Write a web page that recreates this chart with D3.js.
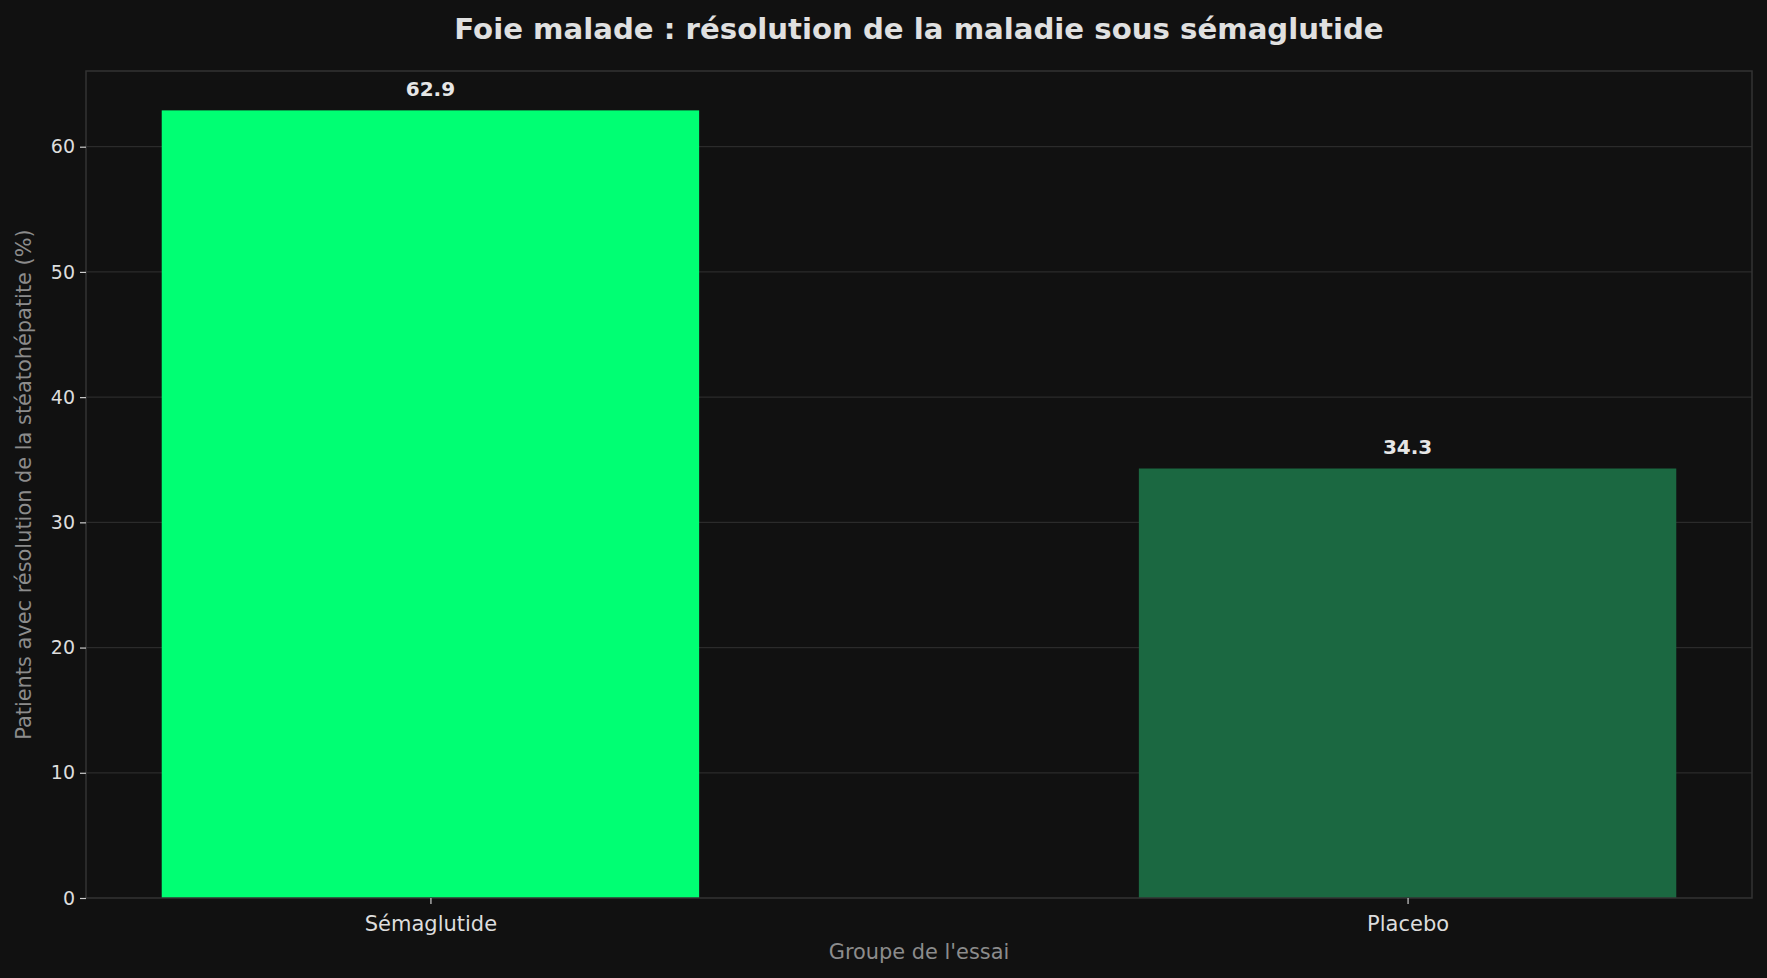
<!DOCTYPE html>
<html>
<head>
<meta charset="utf-8">
<script src="https://cdn.jsdelivr.net/npm/d3@7"></script>
<style>
  html, body { margin: 0; padding: 0; background: #111111; }
  svg { display: block; font-family: "DejaVu Sans", sans-serif; }
</style>
</head>
<body>
<svg id="chart"></svg>
<script>
const width = 1767;
const height = 978;

// Data
const groups = ["Sémaglutide", "Placebo"];
const resolution = [62.9, 34.3];
const barColors = ["#00ff73", "#1b6841"];
const yTicks = [0, 10, 20, 30, 40, 50, 60];

const title = "Foie malade : résolution de la maladie sous sémaglutide";
const xLabel = "Groupe de l'essai";
const yLabel = "Patients avec résolution de la stéatohépatite (%)";

const margin = {top: 71, right: 15, bottom: 80, left: 86};
const barWidth = 0.55;

const svg = d3.select("#chart")
    .attr("width", width)
    .attr("height", height);

svg.append("rect")
    .attr("width", width)
    .attr("height", height)
    .attr("fill", "#111111");

// Scales (matplotlib-like padding around the bars)
const pad = 0.05 * (groups.length - 1 + barWidth);
const x = d3.scaleLinear()
    .domain([-barWidth / 2 - pad, groups.length - 1 + barWidth / 2 + pad])
    .range([margin.left, width - margin.right]);

const y = d3.scaleLinear()
    .domain([0, d3.max(resolution) * 1.05])
    .range([height - margin.bottom, margin.top]);

// Grid lines
svg.append("g")
    .selectAll("line")
    .data(yTicks.slice(1))
    .join("line")
    .attr("x1", x.range()[0])
    .attr("x2", x.range()[1])
    .attr("y1", d => y(d))
    .attr("y2", d => y(d))
    .attr("stroke", "#2b2b2b")
    .attr("stroke-width", 1.2);

// Bars
svg.append("g")
    .selectAll("rect")
    .data(resolution)
    .join("rect")
    .attr("x", (d, i) => x(i - barWidth / 2))
    .attr("width", (d, i) => x(i + barWidth / 2) - x(i - barWidth / 2))
    .attr("y", d => y(d))
    .attr("height", d => y(0) - y(d))
    .attr("fill", (d, i) => barColors[i]);

// Value labels
svg.append("g")
    .selectAll("text")
    .data(resolution)
    .join("text")
    .attr("x", (d, i) => x(i))
    .attr("y", d => y(d) - 14.5)
    .attr("text-anchor", "middle")
    .attr("fill", "#e6e6e6")
    .attr("font-size", "20px")
    .attr("font-weight", "bold")
    .text(d => d.toFixed(1));

// Frame
svg.append("rect")
    .attr("x", x.range()[0])
    .attr("y", y.range()[1])
    .attr("width", x.range()[1] - x.range()[0])
    .attr("height", y.range()[0] - y.range()[1])
    .attr("fill", "none")
    .attr("stroke", "#333333")
    .attr("stroke-width", 1.5);

// Axes
const yAxis = svg.append("g")
    .attr("transform", `translate(${x.range()[0]},0)`)
    .call(d3.axisLeft(y).tickValues(yTicks).tickSize(6).tickPadding(5));

const xAxis = svg.append("g")
    .attr("transform", `translate(0,${y.range()[0]})`)
    .call(d3.axisBottom(x).tickValues(d3.range(groups.length))
        .tickFormat(i => groups[i]).tickSize(6).tickPadding(12));

[xAxis, yAxis].forEach(a => {
    a.select(".domain").remove();
    a.selectAll(".tick line").attr("stroke", "#cccccc").attr("stroke-width", 1.2);
    a.selectAll(".tick text").attr("fill", "#dddddd").attr("font-family", "DejaVu Sans");
});
yAxis.selectAll(".tick text").attr("font-size", "19px");
xAxis.selectAll(".tick text").attr("font-size", "21px");

// Title and axis labels
svg.append("text")
    .attr("x", (x.range()[0] + x.range()[1]) / 2)
    .attr("y", 38.5)
    .attr("text-anchor", "middle")
    .attr("fill", "#e0e0e0")
    .attr("font-size", "29.2px")
    .attr("font-weight", "bold")
    .text(title);

svg.append("text")
    .attr("x", (x.range()[0] + x.range()[1]) / 2)
    .attr("y", 959)
    .attr("text-anchor", "middle")
    .attr("fill", "#8c8c8c")
    .attr("font-size", "20.9px")
    .text(xLabel);

svg.append("text")
    .attr("transform", `translate(31,${(y.range()[0] + y.range()[1]) / 2}) rotate(-90)`)
    .attr("text-anchor", "middle")
    .attr("fill", "#8c8c8c")
    .attr("font-size", "20.9px")
    .text(yLabel);
</script>
</body>
</html>
